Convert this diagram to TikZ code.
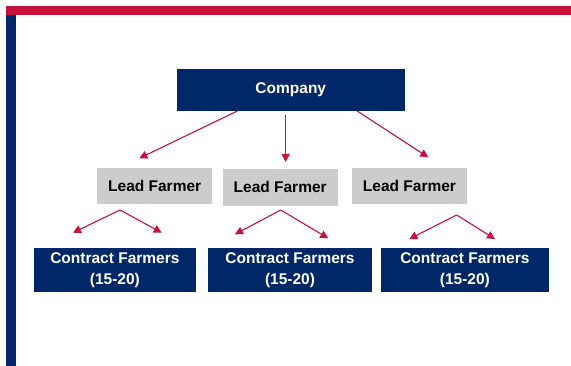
\documentclass[tikz,border=0pt]{standalone}
\usepackage{fontspec}
\setmainfont{Liberation Sans}
\usetikzlibrary{arrows.meta}
\definecolor{brandred}{RGB}{200,16,60}
\definecolor{brandblue}{RGB}{0,40,104}
\definecolor{leadgray}{RGB}{204,204,204}
\begin{document}
\begin{tikzpicture}[x=1pt,y=-1pt,
  bluebox/.style={fill=brandblue,text=white,font=\fontsize{15.5}{20.5}\selectfont\bfseries,align=center,inner sep=0pt,anchor=center},
  graybox/.style={fill=leadgray,text=black,font=\fontsize{15.5}{20}\selectfont\bfseries,align=center,inner sep=0pt,anchor=center},
  link/.style={draw=brandred,line width=1.1pt,-{Triangle[length=8pt,width=8pt]}}]
\useasboundingbox (0,0) rectangle (571,366);
% frame bars
\fill[brandred] (6,6) rectangle (571,15.5);
\fill[brandblue] (6,15.5) rectangle (16,366);
% company
\node[bluebox,minimum width=228.3pt,minimum height=42.7pt] (comp) at (290.8,90) {Company};
% lead farmers
\node[graybox,minimum width=114.7pt,minimum height=36.3pt] (lf1) at (154.7,186.2) {Lead Farmer};
\node[graybox,minimum width=115pt,minimum height=37pt] (lf2) at (280.2,187.2) {Lead Farmer};
\node[graybox,minimum width=115pt,minimum height=36pt] (lf3) at (409.5,186) {Lead Farmer};
% contract farmers
\node[bluebox,minimum width=161.7pt,minimum height=44.5pt] (cf1) at (114.9,270) {Contract Farmers\\(15-20)};
\node[bluebox,minimum width=164pt,minimum height=44.5pt] (cf2) at (290,270) {Contract Farmers\\(15-20)};
\node[bluebox,minimum width=168.3pt,minimum height=44.5pt] (cf3) at (464.9,270) {Contract Farmers\\(15-20)};
% connector coordinates
\coordinate (c1s) at (238,110.7);
\coordinate (c1e) at (139.3,158.3);
\coordinate (c2s) at (285.7,115);
\coordinate (c2e) at (285.7,162);
\coordinate (c3s) at (356.7,110.7);
\coordinate (c3e) at (428.3,157.3);
\draw[link] (c1s) -- (c1e);
\draw[link] (c2s) -- (c2e);
\draw[link] (c3s) -- (c3e);
% lead to contract
\coordinate (a1) at (120,210);
\coordinate (a1l) at (73,232.7);
\coordinate (a1r) at (161.7,232.7);
\coordinate (a2) at (280.7,210);
\coordinate (a2l) at (235,234.3);
\coordinate (a2r) at (328.3,238.3);
\coordinate (a3) at (456.7,215);
\coordinate (a3l) at (409.3,239);
\coordinate (a3r) at (495,239);
\draw[link] (a1) -- (a1l);
\draw[link] (a1) -- (a1r);
\draw[link] (a2) -- (a2l);
\draw[link] (a2) -- (a2r);
\draw[link] (a3) -- (a3l);
\draw[link] (a3) -- (a3r);
\end{tikzpicture}
\end{document}
